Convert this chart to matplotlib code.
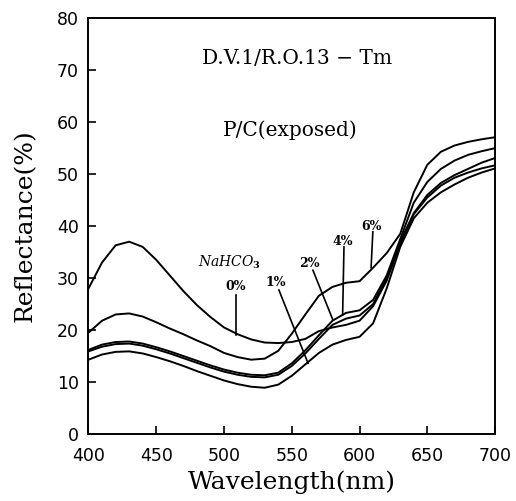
import numpy as np
import matplotlib
matplotlib.use('Agg')
import matplotlib.pyplot as plt
plt.rcParams['mathtext.fontset'] = 'dejavuserif'

# wavelength grid (nm)
wl = list(range(400, 701, 10))

# reflectance (%), one list per NaHCO3 level
r0 = [28, 33, 36.3, 37, 36, 33.5, 30.5, 27.5, 24.8, 22.5, 20.5, 19.2, 18.2, 17.6, 17.5, 17.7,
      18.3, 19.8, 20.5, 21, 21.8, 24.6, 29.5, 36.5, 42.3, 45.5, 47.8, 49.3, 50.3, 51.1, 51.7]
r1 = [14.3, 15.3, 15.8, 15.9, 15.5, 14.8, 14, 13.1, 12.1, 11.2, 10.3, 9.6, 9.1, 8.9, 9.5, 11.2,
      13.4, 15.6, 17.2, 18.1, 18.7, 21.3, 28, 36, 41.5, 44.5, 46.5, 48, 49.3, 50.3, 51.1]
r2 = [15.9, 16.8, 17.3, 17.4, 17, 16.3, 15.5, 14.6, 13.7, 12.8, 12, 11.4, 11, 10.9, 11.4, 13.1,
      15.5, 18.3, 21, 22.2, 22.8, 25, 30, 37, 42.5, 46, 48.3, 49.8, 51, 52.2, 53.1]
r4 = [16.2, 17.2, 17.7, 17.8, 17.4, 16.7, 15.9, 15, 14.1, 13.2, 12.4, 11.8, 11.4, 11.3, 11.8, 13.6,
      16.1, 19, 21.8, 23.3, 23.8, 25.8, 30.5, 37.5, 44.5, 48.5, 51, 52.6, 53.7, 54.4, 55]
r6 = [19.5, 21.8, 23, 23.2, 22.6, 21.5, 20.3, 19.2, 18, 16.9, 15.6, 14.8, 14.3, 14.5, 16, 19.3,
      23, 26.6, 28.3, 29.1, 29.4, 32, 34.8, 38.5, 46.5, 51.8, 54.3, 55.5, 56.2, 56.7, 57.1]

series = [r0, r1, r2, r4, r6]

fig = plt.figure(figsize=(5.16, 5.01), dpi=100)
ax = fig.add_axes([0.1715, 0.1337, 0.788, 0.830])

for s in series:
    ax.plot(wl, s, color='black', linewidth=1.4, solid_joinstyle='round')

ax.set_xlim(400, 700)
ax.set_ylim(0, 80)
ax.set_xticks(range(400, 701, 50))
ax.set_yticks(range(0, 81, 10))
ax.tick_params(direction='in', length=6, width=1.2, labelsize=12.5, top=False, right=False)
ax.tick_params(axis='x', pad=9)
ax.tick_params(axis='y', pad=7)
for sp in ax.spines.values():
    sp.set_linewidth(1.4)

serif = 'DejaVu Serif'
ax.set_xlabel('Wavelength(nm)', fontsize=18, family=serif, labelpad=4)
ax.set_ylabel('Reflectance(%)', fontsize=18, family=serif, labelpad=14)

ax.text(554, 72.3, 'D.V.1/R.O.13 \u2212 Tm', ha='center', va='center', fontsize=14.5, family=serif)
ax.text(549, 58.5, 'P/C(exposed)', ha='center', va='center', fontsize=14.5, family=serif)

# curve labels with leader lines
ax.text(504, 33, r'$\mathbf{\mathit{NaHCO}_3}$', ha='center', va='center', fontsize=10)
labels = [('0%', 508.5, 28.3, (508.5, 26.7), (508.5, 19)),
          ('1%', 538, 29.2, (540.5, 27.7), (562, 13.6)),
          ('2%', 562.6, 32.9, (565.6, 31.5), (580.4, 21.9)),
          ('4%', 587.5, 37, (588.5, 36), (587.5, 22.9)),
          ('6%', 608.5, 39.9, (609.8, 38.9), (608.5, 32))]
for txt, tx, ty, p0, p1 in labels:
    ax.text(tx, ty, txt, ha='center', va='center', fontsize=9, family=serif, fontweight='bold')
    ax.plot([p0[0], p1[0]], [p0[1], p1[1]], color='black', linewidth=1.2)

fig.savefig('out.png', dpi=100)
